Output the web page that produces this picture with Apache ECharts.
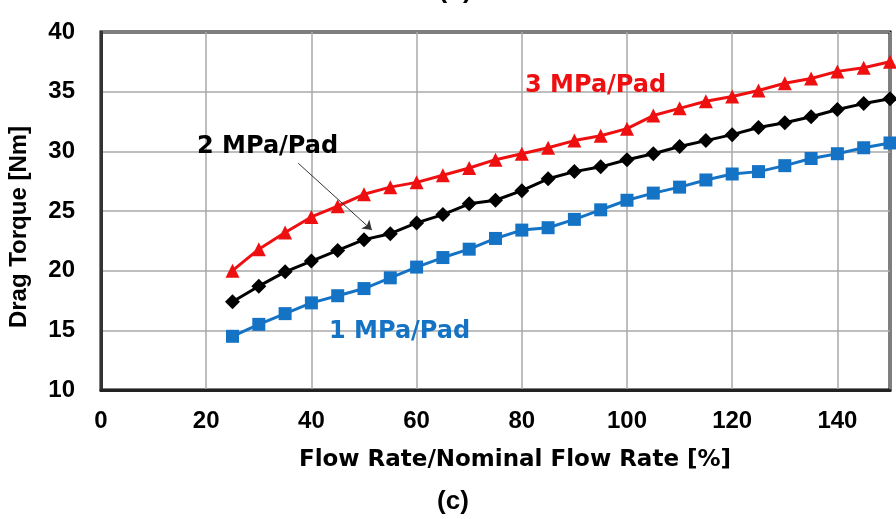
<!DOCTYPE html>
<html>
<head>
<meta charset="utf-8">
<script src="https://cdn.jsdelivr.net/npm/echarts@6/dist/echarts.min.js"></script>
<style>
  html, body { margin: 0; padding: 0; background: #fff; }
  #chart { width: 896px; height: 519px; }
</style>
</head>
<body>
<div id="chart"></div>
<script>
// flow rate [%] for every point
const flowRate = [25, 30, 35, 40, 45, 50, 55, 60, 65, 70, 75, 80, 85, 90, 95, 100,
  105, 110, 115, 120, 125, 130, 135, 140, 145, 150];

// drag torque [Nm]
const torque3MPa = [20.0, 21.8, 23.2, 24.5, 25.4, 26.4, 27.0, 27.4, 28.0, 28.6, 29.3, 29.8, 30.3,
  30.9, 31.3, 31.9, 33.0, 33.6, 34.2, 34.6, 35.1, 35.7, 36.1, 36.7, 37.0, 37.5];
const torque2MPa = [17.4, 18.7, 19.9, 20.8, 21.7, 22.6, 23.1, 24.0, 24.7, 25.6, 25.9, 26.7, 27.7,
  28.3, 28.7, 29.3, 29.8, 30.4, 30.9, 31.4, 32.0, 32.4, 32.9, 33.5, 34.0, 34.4];
const torque1MPa = [14.5, 15.5, 16.4, 17.3, 17.9, 18.5, 19.4, 20.3, 21.1, 21.8, 22.7, 23.4, 23.6,
  24.3, 25.1, 25.9, 26.5, 27.0, 27.6, 28.1, 28.3, 28.8, 29.4, 29.8, 30.3, 30.7];

// arrow pointing at the 2 MPa curve
const arrowFrom = [37.5, 29.0];
const arrowTo = [51.5, 23.4];

const ARIAL = '"Liberation Sans", Arial, sans-serif';
const WIDE = '"DejaVu Sans", Verdana, sans-serif';
const RED = '#ee1010';
const BLUE = '#1573c5';
const BLACK = '#000000';

const pairs = ys => flowRate.map((x, i) => [x, ys[i]]);

const chart = echarts.init(document.getElementById('chart'), null, { renderer: 'canvas' });

const label = (text, x, y, color, font) => ({
  type: 'text', x: x, y: y, z: 10,
  style: { text: text, fill: color, font: font, textAlign: 'left', textVerticalAlign: 'middle' }
});

const option = {
  animation: false,
  backgroundColor: '#fff',
  grid: {
    left: 101, right: 6, top: 32, bottom: 129,
    show: true, borderColor: BLACK, borderWidth: 3
  },
  xAxis: {
    type: 'value', min: 0, max: 150, interval: 20,
    axisLine: { show: true, lineStyle: { color: '#222', width: 3 } },
    axisTick: { show: false },
    axisLabel: { fontFamily: ARIAL, fontWeight: 'bold', fontSize: 24, color: BLACK, margin: 19,
      showMaxLabel: false },
    splitLine: { show: true, lineStyle: { color: '#a8a8a8', width: 1.5 } }
  },
  yAxis: {
    type: 'value', min: 10, max: 40, interval: 5,
    axisLine: { show: true, lineStyle: { color: '#333', width: 3 } },
    axisTick: { show: false },
    axisLabel: { fontFamily: ARIAL, fontWeight: 'bold', fontSize: 24, color: BLACK, margin: 26 },
    splitLine: { show: true, lineStyle: { color: '#a8a8a8', width: 1.5 } }
  },
  series: [
    {
      name: '3 MPa/Pad', type: 'line', data: pairs(torque3MPa),
      symbol: 'triangle', symbolSize: 14,
      lineStyle: { color: RED, width: 3 }, itemStyle: { color: RED }
    },
    {
      name: '2 MPa/Pad', type: 'line', data: pairs(torque2MPa),
      symbol: 'diamond', symbolSize: 15,
      lineStyle: { color: BLACK, width: 3 }, itemStyle: { color: BLACK },
      markLine: {
        silent: true,
        symbol: ['none', 'arrow'], symbolSize: 9,
        lineStyle: { color: '#333', width: 1, type: 'solid' },
        label: { show: false },
        data: [[{ coord: arrowFrom }, { coord: arrowTo }]]
      }
    },
    {
      name: '1 MPa/Pad', type: 'line', data: pairs(torque1MPa),
      symbol: 'rect', symbolSize: 13,
      lineStyle: { color: BLUE, width: 3 }, itemStyle: { color: BLUE }
    }
  ],
  graphic: [
    label('3 MPa/Pad', 525, 86, RED, 'bold 24px ' + WIDE),
    label('2 MPa/Pad', 197, 147, BLACK, 'bold 24px ' + WIDE),
    label('1 MPa/Pad', 329, 332, BLUE, 'bold 24px ' + WIDE),
    {
      type: 'text', x: 515, y: 460,
      style: { text: 'Flow Rate/Nominal Flow Rate [%]', fill: BLACK, font: 'bold 23px ' + WIDE,
        textAlign: 'center', textVerticalAlign: 'middle' }
    },
    {
      type: 'text', x: 19, y: 227, rotation: Math.PI / 2,
      style: { text: 'Drag Torque [Nm]', fill: BLACK, font: 'bold 24px ' + ARIAL,
        textAlign: 'center', textVerticalAlign: 'middle' }
    },
    {
      type: 'text', x: 453, y: 502,
      style: { text: '(c)', fill: BLACK, font: 'bold 26px ' + ARIAL,
        textAlign: 'center', textVerticalAlign: 'middle' }
    },
    {
      type: 'text', x: 455, y: -9,
      style: { text: '(b)', fill: BLACK, font: 'bold 26px ' + ARIAL,
        textAlign: 'center', textVerticalAlign: 'middle' }
    }
  ]
};

chart.setOption(option);
</script>
</body>
</html>
